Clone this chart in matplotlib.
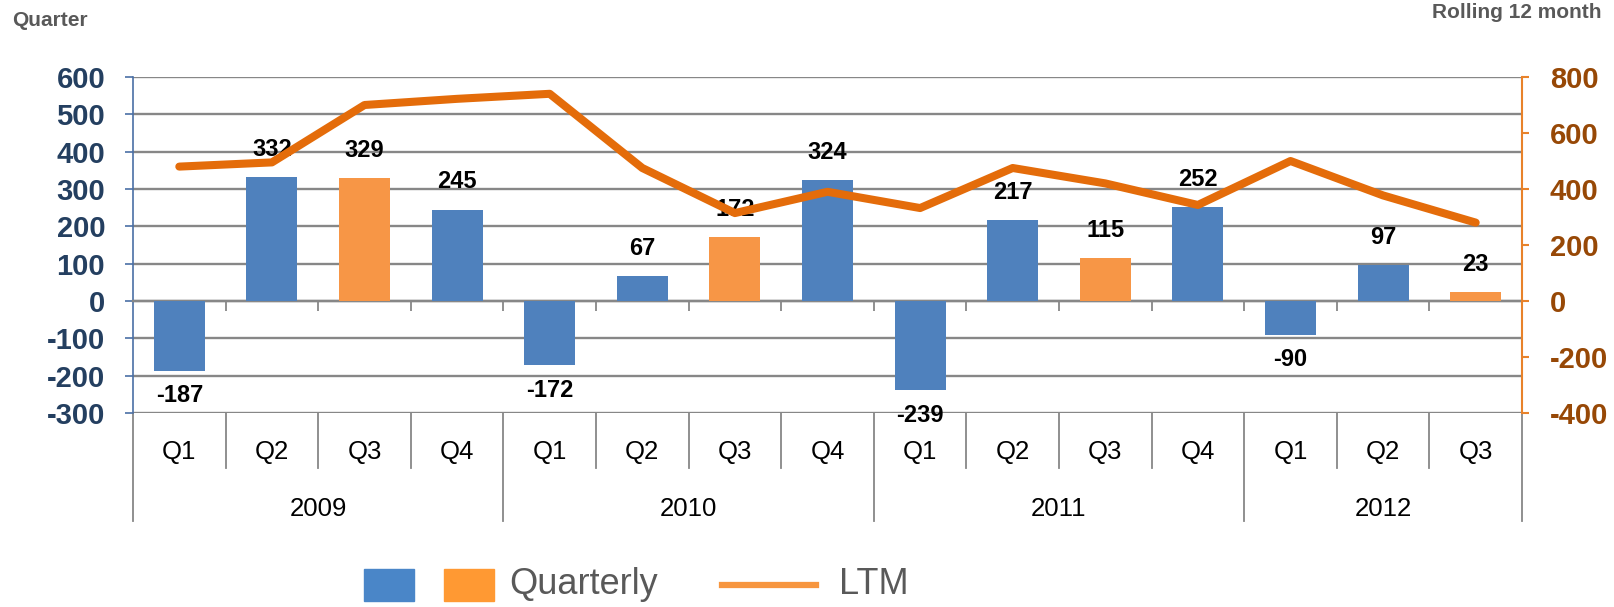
import matplotlib
matplotlib.use('Agg')
import matplotlib.pyplot as plt
from matplotlib.patches import Rectangle
from matplotlib.lines import Line2D

# data
years = ['2009', '2010', '2011', '2012']
quarters = ['Q1', 'Q2', 'Q3', 'Q4', 'Q1', 'Q2', 'Q3', 'Q4',
            'Q1', 'Q2', 'Q3', 'Q4', 'Q1', 'Q2', 'Q3']
quarterly = [-187, 332, 329, 245, -172, 67, 172, 324,
             -239, 217, 115, 252, -90, 97, 23]
ltm = [480, 495, 700, 722, 740, 475, 314, 390,
       332, 475, 420, 343, 500, 377, 280]

BLUE = '#4F81BD'
ORANGE = '#F79646'
LINE = '#E46C0A'
NAVY = '#243F60'
BROWN = '#974806'
GRID = '#878787'
GRAYTXT = '#595959'

plt.rcParams['font.family'] = ['Liberation Sans', 'DejaVu Sans']
plt.rcParams['axes.unicode_minus'] = False

W, H = 1614, 607
fig = plt.figure(figsize=(W / 100, H / 100), dpi=100)
ax = fig.add_axes([133 / W, 1 - 413 / H, (1522 - 133) / W, (413 - 77) / H])
ax2 = ax.twinx()

n = len(quarterly)
x = list(range(n))
colors = [ORANGE if q == 'Q3' else BLUE for q in quarters]
ax.bar(x, quarterly, width=0.55, color=colors, zorder=3)
ax.set_xlim(-0.5, n - 0.5)
ax.set_ylim(-300, 600)
ax.set_yticks(range(-300, 601, 100))
ax.yaxis.grid(True, color=GRID, lw=1.7)
ax.set_axisbelow(True)

for sp in ['top', 'right']:
    ax.spines[sp].set_visible(False)
ax.spines['left'].set_color('#4A6FA5')
ax.spines['left'].set_linewidth(1.2)
ax.spines['bottom'].set_position(('data', 0))
ax.spines['bottom'].set_color(GRID)
ax.spines['bottom'].set_linewidth(1.7)
ax.set_xticks([i + 0.5 for i in range(n)])
ax.set_xticklabels([])
ax.tick_params(axis='x', length=7, width=1.3, color=GRID, direction='out')
ax.tick_params(axis='y', length=6, width=1.2, color='#4A6FA5', pad=14,
               labelsize=21, labelcolor=NAVY)
for lab in ax.get_yticklabels():
    lab.set_fontweight('bold')

# value labels
for xi, v in zip(x, quarterly):
    off = 20 if v >= 0 else -18
    ax.annotate(str(v), (xi, v), xytext=(0, off), textcoords='offset points',
                ha='center', va='center', fontsize=17, fontweight='bold',
                color='black', zorder=5)

# LTM line on right axis
ax2.plot(x, ltm, color=LINE, lw=5.8, solid_capstyle='round', zorder=4)
ax2.set_ylim(-400, 800)
ax2.set_yticks(range(-400, 801, 200))
for sp in ['top', 'left', 'bottom']:
    ax2.spines[sp].set_visible(False)
ax2.spines['right'].set_color('#E8822A')
ax2.spines['right'].set_linewidth(1.5)
ax2.tick_params(axis='y', length=5, width=1.5, color='#E8822A', pad=15,
                labelsize=21, labelcolor=BROWN)
for lab in ax2.get_yticklabels():
    lab.set_fontweight('bold')

# category axis below the plot: quarters and years
trans = ax.get_xaxis_transform()
for i in range(n + 1):
    bottom = -0.322 if i % 4 == 0 or i == n else -0.164
    ax.plot([i - 0.5, i - 0.5], [0, bottom], transform=trans, color=GRID,
            lw=1.3, clip_on=False)
for xi, q in zip(x, quarters):
    ax.text(xi, -0.115, q, transform=trans, ha='center', va='center',
            fontsize=18.5, color='black')
for k, yr in enumerate(years):
    first = k * 4
    last = min(first + 3, n - 1)
    ax.text((first + last) / 2, -0.285, yr, transform=trans, ha='center',
            va='center', fontsize=18.5, color='black')

# axis titles
fig.text(12 / W, 1 - 20 / H, 'Quarter', ha='left', va='center', fontsize=15,
         fontweight='bold', color=GRAYTXT)
fig.text(1601 / W, 1 - 13 / H, 'Rolling 12 month', ha='right', va='center',
         fontsize=15, fontweight='bold', color=GRAYTXT)

# legend drawn by hand
ly = 1 - 585 / H
fig.add_artist(Rectangle((364 / W, 1 - 601 / H), 50 / W, 32 / H,
                         transform=fig.transFigure, color='#4A86C8'))
fig.add_artist(Rectangle((444 / W, 1 - 601 / H), 50 / W, 32 / H,
                         transform=fig.transFigure, color='#FF9933'))
fig.text(509 / W, ly, 'Quarterly', ha='left', va='center', fontsize=26,
         color=GRAYTXT)
fig.add_artist(Line2D([722 / W, 816 / W], [ly, ly], transform=fig.transFigure,
                      color='#F7963F', lw=4.5))
fig.text(839 / W, ly, 'LTM', ha='left', va='center', fontsize=26,
         color=GRAYTXT)

fig.savefig('out.png', dpi=100)
